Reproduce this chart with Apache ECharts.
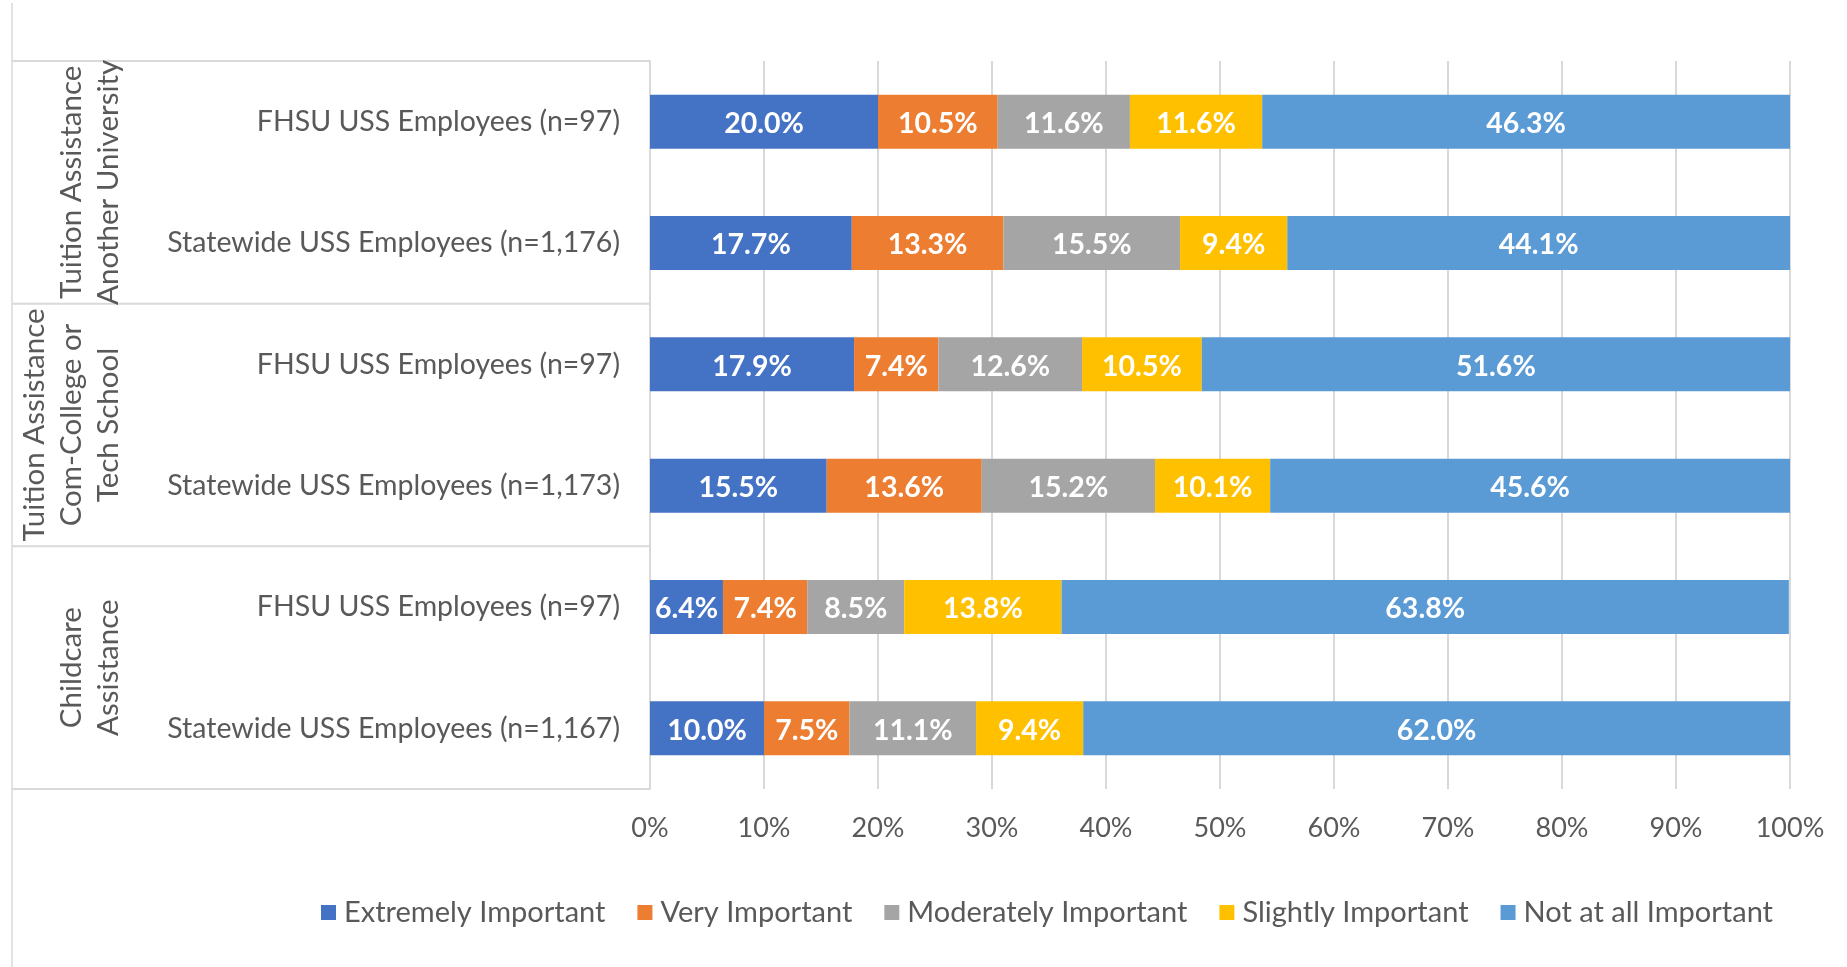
<!DOCTYPE html>
<html>
<head>
<meta charset="utf-8">
<script src="https://cdn.jsdelivr.net/npm/echarts@6/dist/echarts.min.js"></script>
<style>
  html, body { margin: 0; padding: 0; background: #ffffff; }
  #chart { width: 1847px; height: 967px; }
</style>
</head>
<body>
<div id="chart"></div>
<script>
// ---- data ----
const rowLabels = [
  'FHSU USS Employees (n=97)',
  'Statewide USS Employees (n=1,176)',
  'FHSU USS Employees (n=97)',
  'Statewide USS Employees (n=1,173)',
  'FHSU USS Employees (n=97)',
  'Statewide USS Employees (n=1,167)'
];
const groupLabels = [
  'Tuition Assistance\nAnother University',
  'Tuition Assistance\nCom-College or\nTech School',
  'Childcare\nAssistance'
];
const groupSizes = [2, 2, 2];
const seriesNames = ['Extremely Important', 'Very Important', 'Moderately Important', 'Slightly Important', 'Not at all Important'];
const extremely = [20.0, 17.7, 17.9, 15.5, 6.4, 10.0];
const very      = [10.5, 13.3, 7.4, 13.6, 7.4, 7.5];
const moderately= [11.6, 15.5, 12.6, 15.2, 8.5, 11.1];
const slightly  = [11.6, 9.4, 10.5, 10.1, 13.8, 9.4];
const notAtAll  = [46.3, 44.1, 51.6, 45.6, 63.8, 62.0];
const xTicks = [0, 10, 20, 30, 40, 50, 60, 70, 80, 90, 100];

// ---- style ----
const colors = ['#4472C4', '#ED7D31', '#A5A5A5', '#FFC000', '#5B9BD5'];
const FONT = 'Lato, "Open Sans", sans-serif';
const GRID = { left: 650, right: 57, top: 61, bottom: 178 };
const W = 1847, H = 967;
const lineColor = '#D9D9D9';
const textColor = '#595959';

const chart = echarts.init(document.getElementById('chart'), null, { renderer: 'canvas' });

const allValues = [extremely, very, moderately, slightly, notAtAll];
const series = seriesNames.map((name, i) => ({
  name,
  type: 'bar',
  stack: 'total',
  barCategoryGap: '55.5%',
  itemStyle: { color: colors[i] },
  label: {
    show: true,
    position: 'inside',
    color: '#ffffff',
    fontFamily: FONT,
    fontWeight: 'bold',
    fontSize: 28.5,
    offset: [0, 2],
    formatter: p => p.value.toFixed(1) + '%'
  },
  data: allValues[i]
}));

// ---- graphics for the multi-level category table ----
const plotH = H - GRID.top - GRID.bottom;
const band = plotH / rowLabels.length;
const graphics = [];
// left border line
graphics.push({ type: 'line', shape: { x1: 12, y1: 3, x2: 12, y2: H }, style: { stroke: lineColor, lineWidth: 1.5 }, silent: true });
let cum = 0;
const bounds = [0];
groupSizes.forEach(s => { cum += s; bounds.push(cum); });
bounds.forEach(b => {
  const y = GRID.top + b * band;
  graphics.push({ type: 'line', shape: { x1: 12, y1: y, x2: GRID.left, y2: y }, style: { stroke: lineColor, lineWidth: 2 }, silent: true });
});
groupLabels.forEach((g, i) => {
  const yc = GRID.top + (bounds[i] + bounds[i + 1]) / 2 * band;
  graphics.push({
    type: 'text',
    x: 127, y: yc,
    rotation: Math.PI / 2,
    silent: true,
    style: {
      text: g,
      fill: textColor,
      font: '29.5px ' + FONT,
      align: 'center',
      verticalAlign: 'bottom',
      lineHeight: 37
    }
  });
});

const option = {
  animation: false,
  backgroundColor: '#ffffff',
  color: colors,
  grid: { left: GRID.left, right: GRID.right, top: GRID.top, bottom: GRID.bottom, containLabel: false },
  legend: {
    data: seriesNames,
    left: 316,
    top: 893,
    icon: 'rect',
    itemWidth: 15,
    itemHeight: 15,
    itemGap: 32,
    textStyle: { color: textColor, fontFamily: FONT, fontSize: 29, padding: [0, 0, 0, 3] }
  },
  xAxis: {
    type: 'value',
    min: xTicks[0],
    max: xTicks[xTicks.length - 1],
    interval: xTicks[1] - xTicks[0],
    axisLine: { show: false },
    axisTick: { show: false },
    splitLine: { show: true, lineStyle: { color: lineColor, width: 2 } },
    axisLabel: { color: textColor, fontFamily: FONT, fontSize: 27, margin: 26, formatter: '{value}%' }
  },
  yAxis: {
    type: 'category',
    inverse: true,
    data: rowLabels.map((_, i) => 'row' + i),
    axisLine: { show: true, lineStyle: { color: lineColor, width: 2 } },
    axisTick: { show: false },
    axisLabel: {
      color: textColor, fontFamily: FONT, fontSize: 28.5, margin: 30,
      padding: [5, 0, 0, 0],
      formatter: (v, idx) => rowLabels[idx]
    }
  },
  graphic: graphics,
  series
};
chart.setOption(option);
</script>
</body>
</html>
